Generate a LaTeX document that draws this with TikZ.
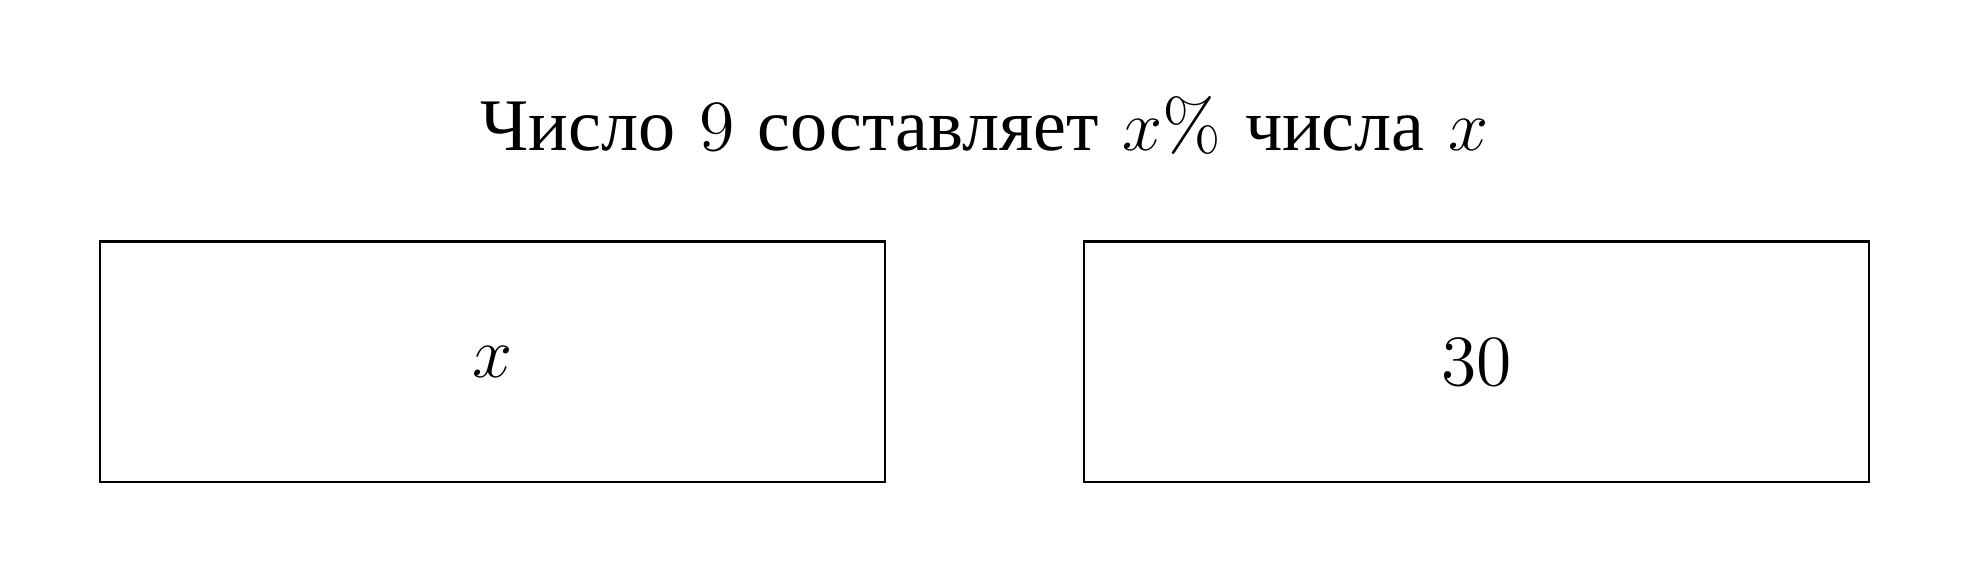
\documentclass[tikz,border=0pt]{standalone}
\usepackage{fontspec}
\newfontfamily\cyrfont[Scale=1.03]{Liberation Serif}
\begin{document}
\begin{tikzpicture}[font=\large,
    valbox/.style={draw, line width=0.4pt, minimum width=4.6cm, minimum height=1.41cm, inner sep=0pt}]
    \useasboundingbox (-164.08pt,-36.87pt) rectangle (164.08pt,60.3pt);

    % statement above the boxes
    \node[anchor=base] (claim) at (0,35.3pt)
        {{\cyrfont Число} 9 {\cyrfont составляет} $x\%$ {\cyrfont числа} $x$};

    % left and right values
    \node[valbox] (lhs) at (-82pt,0) {$x$};
    \node[valbox] (rhs) at (82pt,0) {$30$};
\end{tikzpicture}
\end{document}
